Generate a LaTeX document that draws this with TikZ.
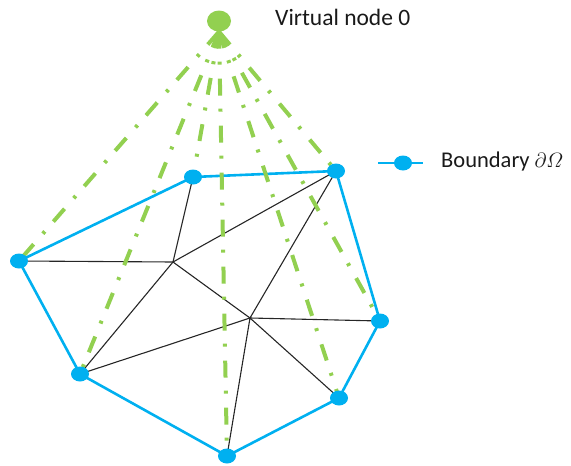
\documentclass[tikz,border=0pt]{standalone}
\usepackage{fontspec}
\usepackage{amsmath}
\setmainfont{Carlito}
\usetikzlibrary{shapes.geometric}
\definecolor{bnd}{HTML}{00B0F0}
\definecolor{vgreen}{HTML}{92D050}
\pgfdeclarelayer{bg}
\pgfdeclarelayer{mid}
\pgfsetlayers{bg,mid,main}
\tikzset{
  bnode/.style={ellipse, fill=bnd, draw=none, minimum width=18pt, minimum height=15pt, inner sep=0pt},
  vnode/.style={ellipse, fill=vgreen, draw=none, minimum width=24pt, minimum height=21pt, inner sep=0pt},
  bedge/.style={draw=bnd, line width=2.6pt, line join=round},
  iedge/.style={draw=black!85, line width=1.1pt},
  vline/.style={draw=vgreen, line width=4pt, dash pattern=on 17pt off 13pt on 3pt off 14pt},
  lbl/.style={anchor=base west, inner sep=0pt, text=black!90, font=\fontsize{23.5}{28}\selectfont}
}
\begin{document}
\begin{tikzpicture}[x=1pt,y=-1pt]
\useasboundingbox (0,0) rectangle (571,466);
% boundary nodes
\node[bnode] (A) at (19,261) {};
\node[bnode] (B) at (193,177) {};
\node[bnode] (C) at (336,171) {};
\node[bnode] (D) at (380,321) {};
\node[bnode] (E) at (339,398) {};
\node[bnode] (F) at (227,456) {};
\node[bnode] (G) at (80,374) {};
% interior points
\coordinate (I1) at (173,262);
\coordinate (I2) at (250,318);
% virtual node
\node[vnode] (V) at (219,21) {};
\node[lbl] (vt) at (275,25) {Virtual node 0};
% legend
\coordinate (L1) at (378,163);
\coordinate (L2) at (423,163);
\node[bnode] (LD) at (403,163) {};
\node[lbl, font=\fontsize{22.5}{27}\selectfont] (bt) at (441,167.5) {Boundary\hspace{0.22em}$\partial\varOmega$};
\begin{pgfonlayer}{bg}
  \draw[iedge] (A.center) -- (I1) -- (B.center);
  \draw[iedge] (C.center) -- (I1) -- (G.center);
  \draw[iedge] (I1) -- (I2);
  \draw[iedge] (C.center) -- (I2) -- (D.center);
  \draw[iedge] (E.center) -- (I2) -- (F.center);
  \draw[iedge] (G.center) -- (I2);
  \draw[bedge] (A.center) -- (B.center) -- (C.center) -- (D.center) -- (E.center) -- (F.center) -- (G.center) -- cycle;
  \draw[bedge] (L1) -- (L2);
\end{pgfonlayer}
\begin{pgfonlayer}{mid}
  \foreach \t in {A,B,C,D,E,F,G} {
    \draw[vline] (V.south) -- (\t.center);
  }
\end{pgfonlayer}
\end{tikzpicture}
\end{document}
